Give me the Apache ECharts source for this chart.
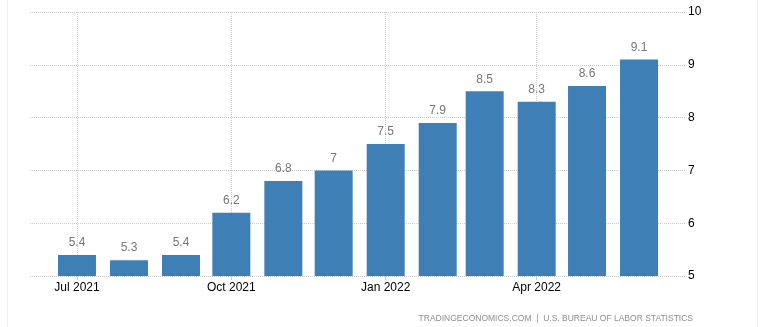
<!DOCTYPE html>
<html><head><meta charset="utf-8">
<script src="https://cdn.jsdelivr.net/npm/echarts@6/dist/echarts.min.js"></script>
<style>html,body{margin:0;padding:0;background:#fff}#c{width:766px;height:327px}</style>
</head><body><div id="c"></div>
<script>
var months = ['2021-07-01','2021-08-01','2021-09-01','2021-10-01','2021-11-01','2021-12-01','2022-01-01','2022-02-01','2022-03-01','2022-04-01','2022-05-01','2022-06-01'];
var values = [5.4, 5.3, 5.4, 6.2, 6.8, 7, 7.5, 7.9, 8.5, 8.3, 8.6, 9.1];
var tickDates = ['2021-07-01','2021-10-01','2022-01-01','2022-04-01'];
var tickLabels = ['Jul 2021','Oct 2021','Jan 2022','Apr 2022'];
var yTicks = [5, 6, 7, 8, 9, 10];
var sourceText = 'TRADINGECONOMICS.COM  |  U.S. BUREAU OF LABOR STATISTICS';

var DAY = 86400000;
function ts(s){ var p = s.split('-'); return Date.UTC(+p[0], +p[1]-1, +p[2]) / DAY; }
var tickTs = tickDates.map(ts);
var labelMap = {};
tickTs.forEach(function(t,i){ labelMap[t] = tickLabels[i]; });

var chart = echarts.init(document.getElementById('c'), null, {renderer:'canvas'});
chart.setOption({
  animation: false,
  textStyle: {fontFamily: 'Liberation Sans, Arial, sans-serif'},
  grid: {left: 30, right: 80, top: 12, bottom: 51},
  xAxis: {
    type: 'value',
    min: ts('2021-06-03'),
    max: ts('2022-06-29'),
    axisLine: {show: false},
    axisTick: {show: true, length: 4, lineStyle: {color: '#ccc'}, customValues: tickTs},
    axisLabel: {customValues: tickTs, color: '#000', fontSize: 12, margin: 6,
      formatter: function(v){ return labelMap[v] || ''; }},
    splitLine: {show: true, lineStyle: {color: '#ccc', type: 'dotted', width: 1}}
  },
  yAxis: {
    type: 'value', position: 'right', min: 5, max: 10, interval: 1,
    axisLine: {show: false}, axisTick: {show: false},
    axisLabel: {color: '#000', fontSize: 12, margin: 2, formatter: function(v){ return yTicks.indexOf(v) >= 0 ? String(v) : ''; }},
    splitLine: {show: true, lineStyle: {color: '#ccc', type: 'dotted', width: 1}}
  },
  series: [{
    type: 'bar',
    barWidth: 38,
    data: months.map(function(m,i){ return [ts(m), values[i]]; }),
    itemStyle: {color: '#3e80b6'},
    label: {show: true, position: 'top', distance: 6, color: '#777', fontSize: 12,
      formatter: function(p){ return String(p.value[1]); }}
  }],
  graphic: [
    {type: 'line', shape: {x1: 7.5, y1: 0, x2: 7.5, y2: 327}, style: {stroke: '#f0f0f0', lineWidth: 1}},
    {type: 'line', shape: {x1: 757.5, y1: 0, x2: 757.5, y2: 327}, style: {stroke: '#f0f0f0', lineWidth: 1}},
    {type: 'text', right: 73, top: 314, style: {text: sourceText, fill: '#8c8c99', font: '8.5px Liberation Sans, Arial, sans-serif'}}
  ]
});
</script></body></html>
